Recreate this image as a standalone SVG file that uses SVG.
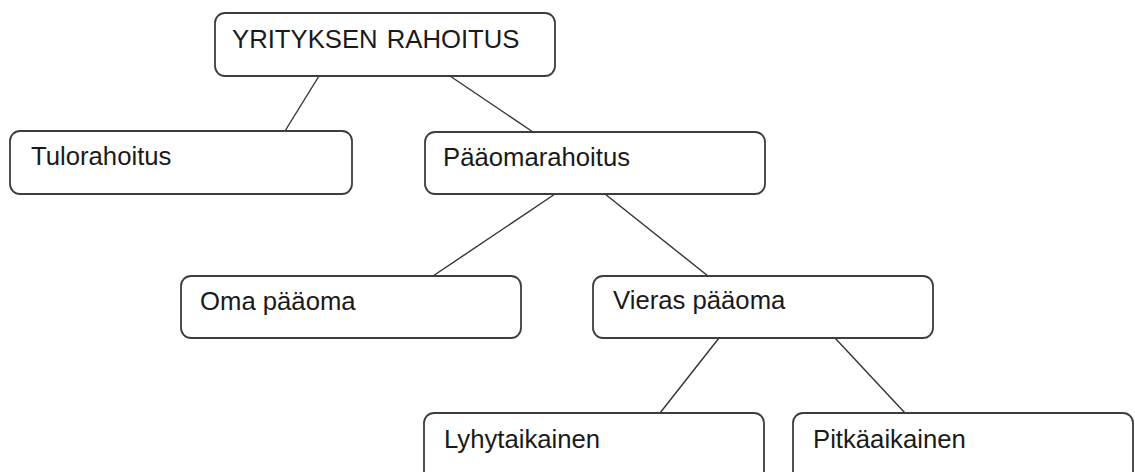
<svg xmlns="http://www.w3.org/2000/svg" width="1135" height="472" viewBox="0 0 1135 472">
<style>
.box{fill:#ffffff;stroke:#3d3d3d;stroke-width:1.8}
.lbl{font-family:"Liberation Sans",Arial,sans-serif;font-size:25.7px;fill:#1a1a1a}
.conn{stroke:#333333;stroke-width:1.4;fill:none}
</style>
<rect width="1135" height="472" fill="#ffffff"/>
<g id="connectors">
<line class="conn" x1="319" y1="76" x2="285" y2="131"/>
<line class="conn" x1="450" y1="76" x2="533" y2="132"/>
<line class="conn" x1="555" y1="194" x2="433" y2="276"/>
<line class="conn" x1="605" y1="194" x2="708" y2="276"/>
<line class="conn" x1="719" y1="338" x2="660" y2="413"/>
<line class="conn" x1="835" y1="338" x2="905" y2="413"/>
</g>
<g id="yrityksen-rahoitus">
<rect class="box" x="215" y="13" width="340" height="63" rx="10"/>
<text class="lbl" x="232" y="48" word-spacing="2">YRITYKSEN RAHOITUS</text>
</g>
<g id="tulorahoitus">
<rect class="box" x="10" y="131" width="342" height="63" rx="10"/>
<text class="lbl" x="31" y="165">Tulorahoitus</text>
</g>
<g id="paaomarahoitus">
<rect class="box" x="425" y="132" width="340" height="62" rx="10"/>
<text class="lbl" x="443" y="166">Pääomarahoitus</text>
</g>
<g id="oma-paaoma">
<rect class="box" x="181" y="276" width="340" height="62" rx="10"/>
<text class="lbl" x="200" y="310">Oma pääoma</text>
</g>
<g id="vieras-paaoma">
<rect class="box" x="593" y="276" width="340" height="62" rx="10"/>
<text class="lbl" x="613" y="309">Vieras pääoma</text>
</g>
<g id="lyhytaikainen">
<rect class="box" x="424" y="413" width="340" height="72" rx="10"/>
<text class="lbl" x="444" y="448">Lyhytaikainen</text>
</g>
<g id="pitkaaikainen">
<rect class="box" x="793" y="413" width="340" height="72" rx="10"/>
<text class="lbl" x="813" y="448">Pitkäaikainen</text>
</g>
</svg>
